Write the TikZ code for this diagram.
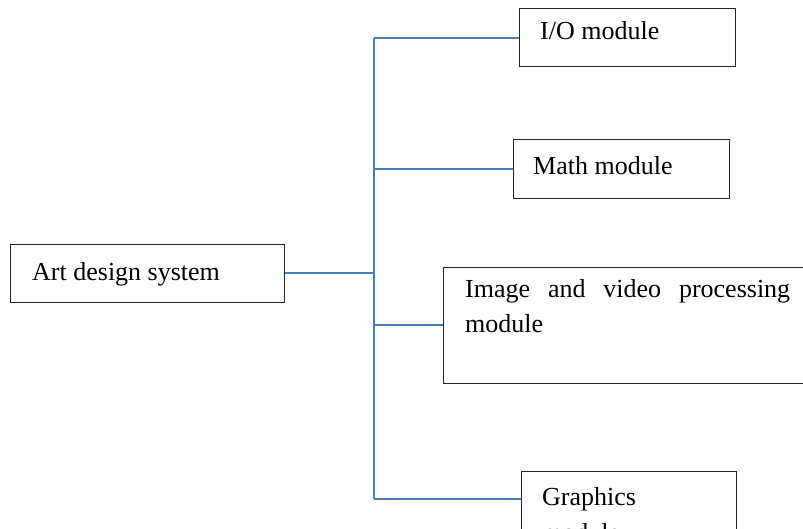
\documentclass[tikz,border=0pt]{standalone}
\usepackage{fontspec}
\setmainfont{Liberation Serif}
\definecolor{linkblue}{HTML}{4A7EBB}
\begin{document}
\begin{tikzpicture}[x=1pt,y=-1pt,
  box/.style={draw=black!85,line width=1.2pt,rectangle,inner sep=0pt,anchor=north west},
  lbl/.style={inner sep=0pt,anchor=base west,font=\fontsize{26}{33}\selectfont},
  link/.style={draw=linkblue,line width=1.6pt}]
\useasboundingbox (0,0) rectangle (803,529);
\clip (0,0) rectangle (803,529);

% boxes
\node[box,minimum width=274pt,minimum height=58pt] (art) at (10,244) {};
\node[box,minimum width=216pt,minimum height=58pt] (io) at (519,8) {};
\node[box,minimum width=216pt,minimum height=59pt] (math) at (513,139) {};
\node[box,minimum width=400pt,minimum height=116pt] (img) at (443,267) {};
\node[box,minimum width=215pt,minimum height=100pt] (gfx) at (521,471) {};

% labels
\node[lbl] (artlbl) at (32,280) {Art design system};
\node[lbl] (iolbl) at (540,40) {I/O module};
\node[lbl] (mathlbl) at (533,175) {Math module};
\node[lbl] (imglbla) at (465,298) {\makebox[325pt][s]{Image and video processing}};
\node[lbl] (imglblb) at (465,332) {module};
\node[lbl] (gfxlbla) at (542,505) {Graphics};
\node[lbl] (gfxlblb) at (542,541) {module};

% bus and branches
\coordinate (bustop) at (374,38);
\coordinate (busbot) at (374,499);
\coordinate (artjoin) at (374,273);
\coordinate (mathjoin) at (374,169);
\coordinate (imgjoin) at (374,325);
\draw[link] (bustop) -- (busbot);
\draw[link] (artjoin -| art.east) -- (artjoin);
\draw[link] (bustop) -- (bustop -| io.west);
\draw[link] (mathjoin) -- (mathjoin -| math.west);
\draw[link] (imgjoin) -- (imgjoin -| img.west);
\draw[link] (busbot) -- (busbot -| gfx.west);
\end{tikzpicture}
\end{document}
